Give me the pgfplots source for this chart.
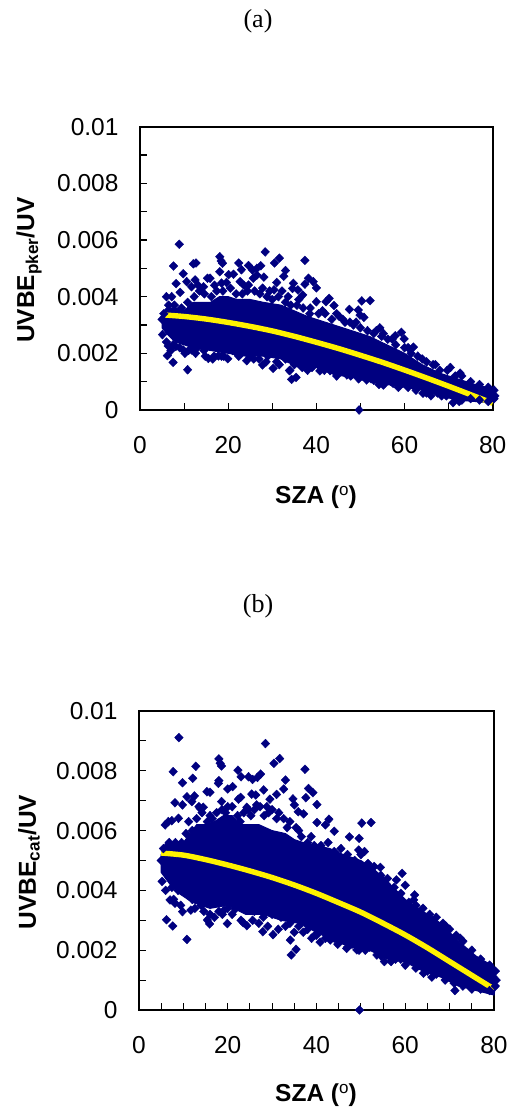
\documentclass[border=0pt]{standalone}
\usepackage{pgfplots}
\pgfplotsset{compat=1.18}
\usepackage{fontspec}
\setmainfont{Liberation Sans}
\newfontfamily\serifx{Liberation Serif}
\definecolor{navyp}{HTML}{000080}
\newcommand{\degsym}{\raisebox{7.5bp}{\normalfont\fontsize{17bp}{18bp}\selectfont o}}
\pgfplotsset{
  common/.style={
    scale only axis, clip=false, axis line style={line width=2bp,black},
    xmin=0,xmax=80,ymin=0,ymax=0.01, scaled y ticks=false, scaled x ticks=false,
    xtick={0,20,40,60,80}, xticklabels={0,20,40,60,80},
    ytick={0,0.002,0.004,0.006,0.008,0.01}, yticklabels={0,0.002,0.004,0.006,0.008,0.01},
    minor ytick={0.001,0.003,0.005,0.007,0.009},
    tick align=inside, xtick pos=bottom, ytick pos=left,
    major tick length=6.5bp, minor tick length=6.5bp,
    tick style={line width=1.1bp,black},
    minor tick style={line width=1.1bp,black},
    tick label style={font=\fontsize{24.5bp}{26bp}\selectfont},
    xticklabel style={yshift=-23bp},
    yticklabel style={xshift=-18bp},
  },
  pts/.style={only marks, mark=diamond*, mark size=4.4bp, color=navyp, mark options={xscale=1.3,draw=navyp,fill=navyp}},
  body/.style={draw=navyp,fill=navyp,line width=1bp},
  fit/.style={yellow,line width=5.4bp,no marks,smooth},
}
\begin{document}
\begin{tikzpicture}[x=1bp,y=1bp]
\path (0,0) rectangle (510,1113);
\node[font=\serifx\fontsize{26bp}{28bp}\selectfont] at (258,1092) {(a)};
\node[font=\serifx\fontsize{26bp}{28bp}\selectfont] at (258,507) {(b)};
\node[font=\bfseries\fontsize{24.5bp}{26bp}\selectfont] at (316,616) {SZA (\degsym)};
\node[font=\bfseries\fontsize{24.5bp}{26bp}\selectfont] at (316,18) {SZA (\degsym)};
\node[font=\bfseries\fontsize{24.5bp}{26bp}\selectfont,rotate=90] at (29,843) {UVBE\textsubscript{pker}/UV};
\node[font=\bfseries\fontsize{24.5bp}{26bp}\selectfont,rotate=90] at (29,251) {UVBE\textsubscript{cat}/UV};
\begin{axis}[common, at={(140bp,703bp)}, anchor=south west, width=352.7bp, height=283.3bp,
  minor xtick={10,30,50,70}]
\addplot[body] coordinates {(5,.0034)(6,.0036)(8,.0036)(10,.0035)(12,.0038)(14,.0038)(16,.0038)(18,.0040)(20,.0040)(22,.0039)(25,.0039)(28,.0038)(32,.0037)(35,.0035)(38,.0033)(40,.0032)(44,.0030)(48,.0028)(52,.0026)(56,.0023)(60,.0020)(64,.0016)(68,.0013)(72,.0011)(76,.0009)(80,.00075)(80.6,.0005)(80,.00025)(76,.0003)(72,.00035)(68,.0005)(64,.0007)(60,.0008)(56,.0009)(52,.0010)(48,.00115)(44,.00125)(40,.0015)(36,.0015)(32,.0018)(28,.0019)(24,.0019)(20,.0020)(16,.0021)(12,.0022)(8,.0024)(6,.0027)(5,.0029)} -- cycle;
\addplot[pts] coordinates {
(8.9,.00585)(7.6,.00508)(9.8,.00481)(8.2,.00446)(12.1,.00516)(12.7,.00519)(18.1,.00541)(18.4,.00526)(18.7,.00518)(18.1,.00488)(20.1,.00478)(21.2,.00479)(22.4,.00519)(23,.00495)(24.6,.0051)(25.5,.00494)(26.5,.005)(27.4,.00509)(28.4,.00558)(30.5,.00519)(31.6,.00536)(33,.00492)(32.6,.00472)(28.1,.00469)(37.4,.00528)(38.2,.00465)(39.3,.00453)(40,.00431)(37.4,.00444)(34.8,.00447)(34.6,.00429)(35.8,.00424)(36.9,.00406)(40,.00382)(42.2,.00382)(42.9,.00394)(44,.00369)(47.5,.00355)(50.3,.00385)(52.2,.00386)(49.5,.00353)(49.9,.00335)(50.8,.00327)(54.4,.0029)(57.9,.00262)(59.3,.00274)(59.9,.00251)(62,.00222)
(15.9,.00465)(15.3,.00465)(18.5,.00448)(22.7,.00453)(24.6,.00441)(25.7,.00465)(26.5,.00476)(31,.0045)(30.4,.00424)(10.6,.00453)(9.1,.00415)(12.5,.00459)(11.7,.00435)(6,.004)(7.2,.004)(14.4,.00435)
(6.2,.00192)(7.5,.00168)(10.8,.00142)(5.1,.00266)(6.4,.00226)(8.1,.00224)(9.8,.00212)(11.7,.00212)(15.5,.00182)(17.8,.00191)(19.9,.00181)(21.5,.00206)(24.2,.00174)(27.8,.00159)(30.2,.00147)(33.9,.00139)(34.4,.00108)(35.4,.00115)(40.8,.00138)(43.1,.00139)(46.9,.00124)(51.4,.00106)(55.2,.00088)(57.4,.00094)(64.2,.00059)(71,.00026)(49.7,0)
(5,.0032)(5.4,.0034)(6.5,.0037)(7.8,.0037)(9.4,.0036)(10.8,.0038)(12.3,.0040)(13.5,.0042)(14.6,.0041)(16.2,.0040)(17.4,.0042)(18.8,.0042)(20.5,.0043)(21.8,.0041)(23.2,.0041)(24.4,.0042)(26,.0042)(27.2,.0041)(28.8,.0040)(30,.0039)(31.4,.0040)(33,.0038)(34.2,.0037)(35.6,.0037)(37,.0036)(38.5,.0034)(40.5,.0034)(42,.0034)(43.5,.0032)(45.2,.0033)(46.5,.0031)(48.4,.0030)(50,.0029)(51.6,.0028)(53,.0027)(54.8,.0026)(56.2,.0025)(58,.0023)(60,.0022)(61.5,.0020)(63,.0019)(65,.0017)(66.5,.0016)(68,.0014)(69.7,.0014)(71.5,.0012)(73,.0012)(75,.0010)(77,.0009)(79,.0008)(80.3,.0007)(80.5,.0005)(80.3,.0004)
(79,.0003)(77,.00035)(75,.0004)(73,.00035)(71.5,.00045)(69.5,.0005)(67.5,.0006)(65,.0006)(63,.0008)(61,.0009)(59,.0009)(57,.001)(55,.001)(53,.00105)(50,.0012)(48,.00125)(45,.0013)(43,.0015)(41,.0015)(39,.0015)(37,.0016)(35,.0016)(33,.0018)(31,.0017)(29,.0019)(27,.0018)(25,.0019)(23,.002)(21,.0021)(18.5,.0019)(16.5,.0018)(14.5,.0021)(13,.0022)(11,.0021)(9,.0022)(7.5,.0023)
(13.2,.0044)(16.9,.0044)(19.6,.0045)(23.6,.0044)(27.8,.0043)(29.4,.0042)(32.2,.0042)(33.6,.0040)(36,.0039)(38.6,.0036)(41.4,.0035)(44.6,.0034)(46,.0032)(47.6,.0031)(49,.0031)(53.6,.0028)(55.2,.0027)(57.2,.0025)(60.8,.0022)(64,.0018)(67,.0016)(70.4,.0015)(72.6,.0013)
(6,.0024)(7,.0021)(10.2,.0020)(12.6,.0020)(14.8,.0019)(16.8,.0019)(19,.0019)(22.4,.0019)(25.8,.0018)(28.6,.0017)(31.6,.0016)(34,.0014)(36.8,.0015)(38,.0014)(41.8,.0014)(44.6,.0012)(47.8,.0012)(49.6,.0011)(52.4,.0011)(54.2,.0009)(58.6,.0008)(60.8,.0008)(62.6,.0007)(66,.0005)(68.4,.0005)(72.4,.0003)
};
\addplot[fit] coordinates {(5,.00336)(10,.00330)(15,.00321)(20,.00309)(25,.00295)(30,.00279)(35,.00260)(40,.00239)(45,.00217)(50,.00193)(55,.00168)(60,.00141)(65,.00113)(70,.00084)(75,.00054)(80,.00024)};
\end{axis}
\begin{axis}[common, at={(139bp,103bp)}, anchor=south west, width=355bp, height=299bp,
  minor xtick={5,10,15,25,30,35,45,50,55,65,70,75}]
\addplot[body] coordinates {(5,.0052)(6,.0056)(8,.0056)(10,.0056)(11,.0058)(13,.0062)(15,.0062)(17,.0063)(19,.0065)(21,.0065)(23,.0062)(25,.0062)(27,.0062)(30,.0060)(33,.0059)(35,.0057)(37,.0056)(40,.0055)(43,.0054)(46,.0052)(50,.0050)(53,.0047)(56,.0043)(60,.0037)(64,.0033)(68,.0029)(72,.0023)(76,.0018)(80,.00145)(80.6,.001)(80,.0005)(76,.00065)(72,.0008)(68,.0011)(64,.0013)(60,.0016)(56,.0017)(52,.0020)(48,.0021)(44,.0023)(40,.0026)(36,.0029)(32,.0030)(28,.0032)(24,.0032)(20,.0035)(16,.0034)(12,.0036)(9,.0039)(7,.0042)(5,.0046)} -- cycle;
\addplot[pts] coordinates {
(9,.00911)(28.5,.00891)(7.7,.00797)(12.8,.00815)(12.1,.00775)(9.8,.0076)(18,.0084)(18.3,.00825)(18.6,.00816)(18,.00767)(17.9,.00758)(20,.00739)(21.1,.00747)(22.3,.00802)(23,.0078)(24.7,.0078)(25.6,.00771)(26.7,.00778)(27.4,.00789)(28.1,.00736)(30.4,.00825)(31.7,.00841)(33,.00769)(32.6,.00739)(37.4,.00805)(38.2,.00741)(39.2,.00727)(37.6,.0071)(40.1,.00687)(34.7,.00706)(35,.00686)(35.9,.00663)(37.1,.00656)(42.8,.00638)(42,.00619)(40.1,.00627)(44,.00598)(47.4,.00579)(50.2,.00625)(52.3,.00627)(49.6,.00574)(49.5,.00535)(50.8,.0053)(51.4,.00485)(54.4,.00477)(58,.00435)(59.3,.00457)(60,.00417)(62.1,.00385)(61.9,.00368)
(8.1,.00693)(9.8,.00686)(10.8,.00713)(12.5,.00716)(11.9,.00697)(15.3,.0073)(16,.00728)(18.6,.00697)(22.4,.00705)(22.9,.00711)(25.4,.00722)(26.3,.00719)(29.5,.00705)(31,.00721)(26.5,.00686)(24.3,.00678)(8.9,.00641)(5.9,.00619)(6.6,.0063)(7.4,.00633)(13.8,.00674)(14.5,.00678)
(5.2,.0043)(6.2,.00302)(7.6,.00281)(10.8,.00236)(9.8,.00329)(11.7,.00334)(8.1,.00357)(7,.00368)(15.4,.00301)(15.9,.00288)(19.9,.00289)(19.2,.00334)(21.7,.00338)(23.5,.00292)(24.3,.00282)(27.9,.00262)(30.2,.00252)(34.1,.00234)(34.3,.00184)(35.4,.00203)(38.9,.0024)(40.8,.00227)(43.1,.00234)(46.8,.00206)(49.1,.00201)(53.6,.00184)(55.3,.00162)(56.8,.00162)(64.1,.00123)(71.2,.00065)(49.7,0)
(5,.0050)(5.5,.0054)(6.8,.0056)(8.2,.0056)(9.6,.0056)(10.6,.0059)(12,.0060)(13,.0064)(14.2,.0066)(15.4,.0063)(16.5,.0064)(17.5,.0066)(18.7,.0067)(20,.0068)(21,.0068)(22.2,.0065)(23.6,.0066)(24.6,.0067)(26,.0067)(27.3,.0068)(28.8,.0068)(30,.0067)(31.5,.0066)(32.6,.0064)(34,.0063)(35.4,.0061)(36.6,.0058)(38,.0056)(39.5,.0055)(41,.0055)(42.6,.0056)(44,.0053)(45.5,.0054)(47,.0052)(48.6,.0050)(50,.0052)(51.6,.0049)(53,.0048)(54.5,.0045)(56,.0044)(57.5,.0041)(59,.0039)(60.8,.0036)(62.4,.0035)(64,.0034)(65.5,.0032)(67,.0031)(68.5,.0029)(70,.0027)(71.5,.0025)(73,.0023)(75,.0020)(77,.0017)(79,.0015)(80.3,.0013)(80.5,.001)(80.3,.0008)
(79,.00065)(77,.0007)(75,.0007)(73,.0008)(71,.0009)(69,.0010)(67,.0012)(65,.0013)(63,.0015)(61,.0017)(59,.0017)(57,.0018)(54,.002)(52,.0021)(50,.0021)(48,.0022)(46,.0024)(44,.0024)(42,.0027)(40,.0025)(38,.0027)(36,.0028)(34,.0029)(32,.0031)(30,.0032)(28,.0031)(26,.0033)(24,.0034)(22,.0035)(20,.0034)(18,.0033)(16,.0032)(14,.0035)(12,.0037)(10.4,.004)(8.8,.0040)(7.4,.0041)(6,.0040)
(11.2,.0063)(13.5,.0068)(16,.0065)(19.5,.0066)(22.8,.0063)(25.2,.0065)(28.2,.0065)(29.2,.0066)(31,.0064)(33.4,.0061)(36,.0060)(38.8,.0058)(41.6,.0053)(43.4,.0052)(46.4,.0050)(49,.0047)(52.4,.0046)(55.2,.0043)(58.4,.0037)(61.4,.0034)(66.2,.0030)(69.2,.0028)(72.4,.0024)
(7.8,.0037)(9.4,.0035)(12.6,.0034)(14.6,.0033)(17,.0031)(18.8,.0032)(21,.0032)(23,.0030)(25.6,.0030)(27,.0029)(29,.0028)(31.4,.0027)(33,.0028)(35,.0026)(37,.0026)(39.6,.0025)(42,.0024)(44.8,.0022)(47,.0021)(49.6,.0020)(51,.0020)(54.6,.0018)(57.8,.0017)(60,.0015)(62.4,.0014)(66,.0011)
};
\addplot[fit] coordinates {(5,.00525)(10,.00518)(15,.00503)(20,.00485)(25,.00465)(30,.00443)(35,.00418)(40,.0039)(45,.00359)(50,.00327)(55,.00290)(60,.00251)(65,.00208)(70,.00162)(75,.00116)(80,.0007)};
\end{axis}
\end{tikzpicture}
\end{document}
